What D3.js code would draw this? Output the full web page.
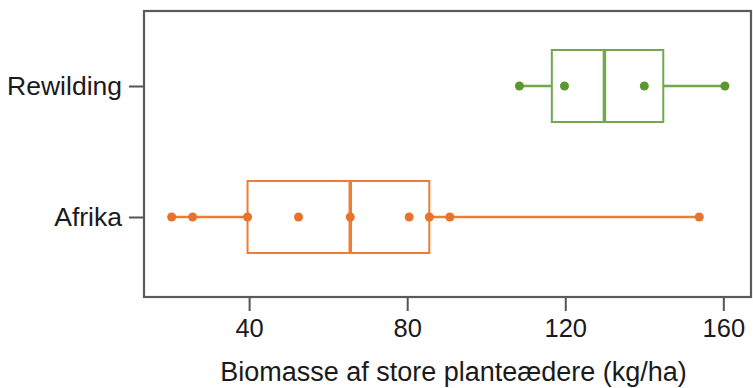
<!DOCTYPE html>
<html>
<head>
<meta charset="utf-8">
<script src="https://cdn.jsdelivr.net/npm/d3@7"></script>
<style>
  body { margin: 0; background: #fff; }
  text { font-family: "Liberation Sans", Arial, sans-serif; fill: #1a1a1a; }
</style>
</head>
<body>
<div id="chart"></div>
<script>

// ======================= //
// DATA
// ======================= //

var groups = ["Afrika", "Rewilding"]

// individual observations (kg/ha)
var afrikaPoints = [20.4, 25.7, 39.6, 52.5, 65.6, 80.5, 85.6, 90.8, 153.9]
var rewildingPoints = [108.4, 119.8, 140, 160.4]

// box statistics: [whisker low, q1, median, q3, whisker high]
var afrikaBox = [20.4, 39.6, 65.6, 85.6, 153.9]
var rewildingBox = [108.4, 116.6, 129.9, 144.8, 160.4]

var xTicks = [40, 80, 120, 160]
var xTitle = "Biomasse af store planteædere (kg/ha)"

var series = [
  {name: "Afrika", points: afrikaPoints, box: afrikaBox, line: "#ED7D31", dot: "#E8732A"},
  {name: "Rewilding", points: rewildingPoints, box: rewildingBox, line: "#72A84A", dot: "#5E9632"}
]


// ======================= //
// SVG AREA
// ======================= //

var margin = {top: 11, right: 2, bottom: 91, left: 144},
  width = 753 - margin.left - margin.right,
  height = 388 - margin.top - margin.bottom;

var svg = d3.select("#chart")
  .append("svg")
    .attr("width", 753)
    .attr("height", 388)
  .append("g")
    .attr("transform", "translate(" + margin.left + "," + margin.top + ")");


// ======================= //
// SCALES AND AXES
// ======================= //

var x = d3.scaleLinear()
  .domain([13.4, 167])
  .range([0, width]);

var y = d3.scalePoint()
  .domain(groups)
  .range([height - 80, 75]);

var boxHalf = 36

var xAxis = svg.append("g")
  .attr("transform", "translate(0," + height + ")")
  .call(d3.axisBottom(x).tickValues(xTicks).tickSize(14).tickPadding(8))
xAxis.select(".domain").remove()
xAxis.selectAll("line").style("stroke", "#555").style("stroke-width", 2)
xAxis.selectAll("text").style("font-size", "25.5px").style("fill", "#1a1a1a")

var yAxis = svg.append("g")
  .call(d3.axisLeft(y).tickSize(15).tickPadding(7))
yAxis.select(".domain").remove()
yAxis.selectAll("line").style("stroke", "#555").style("stroke-width", 2)
yAxis.selectAll("text").style("font-size", "26.5px").style("fill", "#1a1a1a")

// frame round the plot
svg.append("rect")
  .attr("x", 0)
  .attr("y", 0)
  .attr("width", width)
  .attr("height", height)
  .style("fill", "none")
  .style("stroke", "#5a5a5a")
  .style("stroke-width", 2.2)

// x title
svg.append("text")
  .attr("x", width / 2 + 6)
  .attr("y", height + 84)
  .style("text-anchor", "middle")
  .style("font-size", "27px")
  .text(xTitle)


// ======================= //
// BOXES
// ======================= //

var g = svg.selectAll(".grp")
  .data(series)
  .enter()
  .append("g")
    .attr("class", "grp")

// whiskers
g.append("line")
  .attr("x1", function(d){ return x(d.box[0]) })
  .attr("x2", function(d){ return x(d.box[1]) })
  .attr("y1", function(d){ return y(d.name) })
  .attr("y2", function(d){ return y(d.name) })
  .style("stroke", function(d){ return d.line })
  .style("stroke-width", 2.5)
g.append("line")
  .attr("x1", function(d){ return x(d.box[3]) })
  .attr("x2", function(d){ return x(d.box[4]) })
  .attr("y1", function(d){ return y(d.name) })
  .attr("y2", function(d){ return y(d.name) })
  .style("stroke", function(d){ return d.line })
  .style("stroke-width", 2.5)

// box
g.append("rect")
  .attr("x", function(d){ return x(d.box[1]) })
  .attr("y", function(d){ return y(d.name) - boxHalf })
  .attr("width", function(d){ return x(d.box[3]) - x(d.box[1]) })
  .attr("height", boxHalf * 2)
  .style("fill", "none")
  .style("stroke", function(d){ return d.line })
  .style("stroke-width", 2)

// median
g.append("line")
  .attr("x1", function(d){ return x(d.box[2]) })
  .attr("x2", function(d){ return x(d.box[2]) })
  .attr("y1", function(d){ return y(d.name) - boxHalf })
  .attr("y2", function(d){ return y(d.name) + boxHalf })
  .style("stroke", function(d){ return d.line })
  .style("stroke-width", 3.5)

// points
g.selectAll("circle")
  .data(function(d){ return d.points.map(function(v){ return {v: v, name: d.name, dot: d.dot} }) })
  .enter()
  .append("circle")
    .attr("cx", function(d){ return x(d.v) })
    .attr("cy", function(d){ return y(d.name) })
    .attr("r", 4.5)
    .style("fill", function(d){ return d.dot })

</script>
</body>
</html>
